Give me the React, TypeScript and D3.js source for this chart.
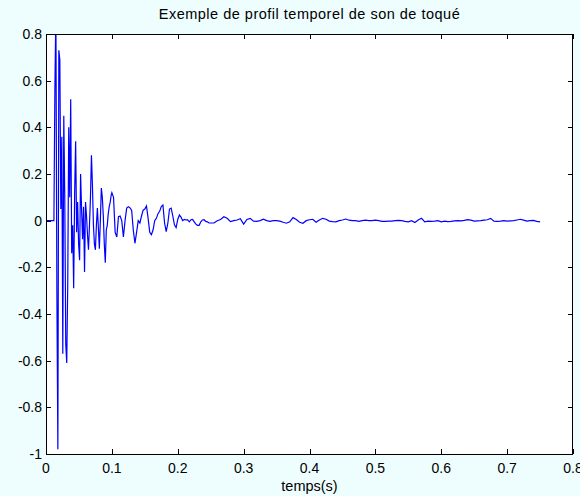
import React, { useEffect, useRef } from 'react';
import * as d3 from 'd3';

// Signal samples (amplitude), in a few uniform segments
const leadStart = 0;
const leadStep = 0.006;
const leadValues = [0, 0];

const attackStart = 0.012;
const attackStep = 0.0015;
const attackValues = [
  0, 0.57, 0.9, -0.3, -0.98, 0.73, 0.69, 0.05, 0.36, -0.57,
  0.45, 0.1, -0.53, -0.61, -0.27, 0.4, 0.1, 0.52, -0.14, -0.02,
  -0.29, 0.12, 0.34, -0.05, 0.08, -0.1, -0.17, 0.2, 0.05, -0.08,
  0.06, -0.22, 0.08, 0.02, -0.06, -0.125, -0.02, 0.1, 0.28, 0.15,
  -0.02, -0.1, -0.125, -0.02, 0.054, -0.03, -0.12, 0.0, 0.14, 0.1,
  0.02, -0.1, -0.18, -0.04, -0.02, 0.03, 0.06, 0.08, 0.11,
];

const decayStart = 0.1;
const decayStep = 0.0025;
const decayValues = [
  0.12, 0.1, -0.05, -0.07, 0.017, 0.02, 0.0, -0.07, 0.0, 0.054,
  0.06, 0.055, 0.045, -0.04, -0.097, -0.05, 0.0, -0.01, 0.02, 0.045,
  0.05, 0.063, 0.01, -0.05, -0.06, -0.04, 0.0, 0.01, 0.03, 0.04,
  0.06, 0.067, -0.01, -0.047, -0.01, 0.05, 0.054, 0.02, -0.018, -0.03,
  0.005, 0.024, 0.015, 0.0, 0.005, 0.003, 0.003, -0.005, 0.004, 0.005,
  -0.005, -0.015, -0.02, -0.02, -0.005, 0.003, 0.004, -0.003, -0.005, -0.01,
];

const tailStart = 0.25;
const tailStep = 0.005;
const tailValues = [
  -0.01, -0.01, 0.0, 0.005, 0.017, 0.01, -0.004, 0.0, 0.003, 0.008,
  -0.015, 0.005, 0.01, -0.002, -0.003, 0.0, 0.006, 0.0, -0.003, 0.0,
  0.0, -0.002, -0.007, -0.011, -0.005, 0.013, 0.005, -0.007, -0.011, 0.0,
  0.004, 0.006, -0.007, 0.003, 0.01, 0.006, -0.002, -0.004, -0.005, 0.0,
  0.003, 0.007, 0.002, 0.0, 0.0, -0.003, 0.0, 0.002, 0.0, 0.0,
  0.002, 0.0, -0.003, -0.003, -0.002, -0.002, 0.0, 0.001, 0.0, -0.003,
  -0.005, 0.0, -0.008, 0.003, 0.01, -0.005, -0.002, -0.003, -0.002, 0.0,
  -0.005, -0.002, -0.004, -0.003, -0.001, 0.0, -0.001, 0.001, 0.004, 0.002,
  -0.002, -0.001, 0.0, 0.002, 0.004, 0.01, -0.002, -0.003, -0.002, 0.0,
  -0.002, -0.001, 0.0, 0.003, 0.006, 0.002, -0.002, 0.0, 0.001, -0.003,
  -0.005,
];

const xTicks = [0, 0.1, 0.2, 0.3, 0.4, 0.5, 0.6, 0.7, 0.8];
const yTicks = [-1, -0.8, -0.6, -0.4, -0.2, 0, 0.2, 0.4, 0.6, 0.8];

const title = 'Exemple de profil temporel de son de toqué';
const xLabel = 'temps(s)';

const App = () => {
  const chartRef = useRef<SVGSVGElement>(null);

  useEffect(() => {
    const width = 580;
    const height = 496;
    const left = 46, right = 573, top = 34, bottom = 454;

    const segments: [number, number, number[]][] = [
      [leadStart, leadStep, leadValues],
      [attackStart, attackStep, attackValues],
      [decayStart, decayStep, decayValues],
      [tailStart, tailStep, tailValues],
    ];
    const points: [number, number][] = [];
    segments.forEach(([start, step, vals]) => {
      vals.forEach((v, i) => points.push([start + i * step, v]));
    });

    const x = d3.scaleLinear().domain([0, 0.8]).range([left, right]);
    const y = d3.scaleLinear().domain([-1, 0.8]).range([bottom, top]);

    const svg = d3.select(chartRef.current);
    svg.selectAll('*').remove();
    svg.attr('width', width).attr('height', height);

    svg.append('rect').attr('width', width).attr('height', height).attr('fill', '#eefefe');
    svg.append('rect')
      .attr('x', left).attr('y', top)
      .attr('width', right - left).attr('height', bottom - top)
      .attr('fill', '#ffffff');

    svg.append('clipPath').attr('id', 'plot-clip')
      .append('rect')
      .attr('x', left).attr('y', top)
      .attr('width', right - left).attr('height', bottom - top);

    const line = d3.line<[number, number]>()
      .x((d) => x(d[0]))
      .y((d) => y(d[1]));

    svg.append('path')
      .datum(points)
      .attr('clip-path', 'url(#plot-clip)')
      .attr('d', line)
      .attr('fill', 'none')
      .attr('stroke', '#0000ff')
      .attr('stroke-width', 1.2);

    // axes: ticks pointing inward on every side
    const tickLen = 5;
    const axes = svg.append('g').attr('stroke', '#000').attr('stroke-width', 1);
    xTicks.forEach((t) => {
      const px = Math.round(x(t)) + 0.5;
      axes.append('line').attr('x1', px).attr('x2', px).attr('y1', bottom).attr('y2', bottom - tickLen);
      axes.append('line').attr('x1', px).attr('x2', px).attr('y1', top).attr('y2', top + tickLen);
    });
    yTicks.forEach((t) => {
      const py = Math.round(y(t)) + 0.5;
      axes.append('line').attr('x1', left).attr('x2', left + tickLen).attr('y1', py).attr('y2', py);
      axes.append('line').attr('x1', right).attr('x2', right - tickLen).attr('y1', py).attr('y2', py);
    });
    axes.append('rect')
      .attr('x', left + 0.5).attr('y', top + 0.5)
      .attr('width', right - left - 1).attr('height', bottom - top)
      .attr('fill', 'none');

    const font = 'Liberation Sans, Arial, Helvetica, sans-serif';

    svg.append('g').selectAll('text')
      .data(xTicks)
      .enter()
      .append('text')
      .attr('x', (d) => x(d))
      .attr('y', bottom + 19)
      .attr('text-anchor', 'middle')
      .attr('font-family', font)
      .attr('font-size', 14)
      .text((d) => String(d));

    svg.append('g').selectAll('text')
      .data(yTicks)
      .enter()
      .append('text')
      .attr('x', left - 4)
      .attr('y', (d) => y(d) + 5)
      .attr('text-anchor', 'end')
      .attr('font-family', font)
      .attr('font-size', 14)
      .text((d) => String(d));

    svg.append('text')
      .attr('x', (left + right) / 2)
      .attr('y', 19)
      .attr('text-anchor', 'middle')
      .attr('font-family', font)
      .attr('font-size', 14.5)
      .attr('letter-spacing', 0.5)
      .text(title);

    svg.append('text')
      .attr('x', (left + right) / 2)
      .attr('y', 491)
      .attr('text-anchor', 'middle')
      .attr('font-family', font)
      .attr('font-size', 14.5)
      .text(xLabel);
  }, []);

  return (
    <svg ref={chartRef} style={{ position: 'absolute', left: 0, top: 0, display: 'block' }}></svg>
  );
};

export default App;
